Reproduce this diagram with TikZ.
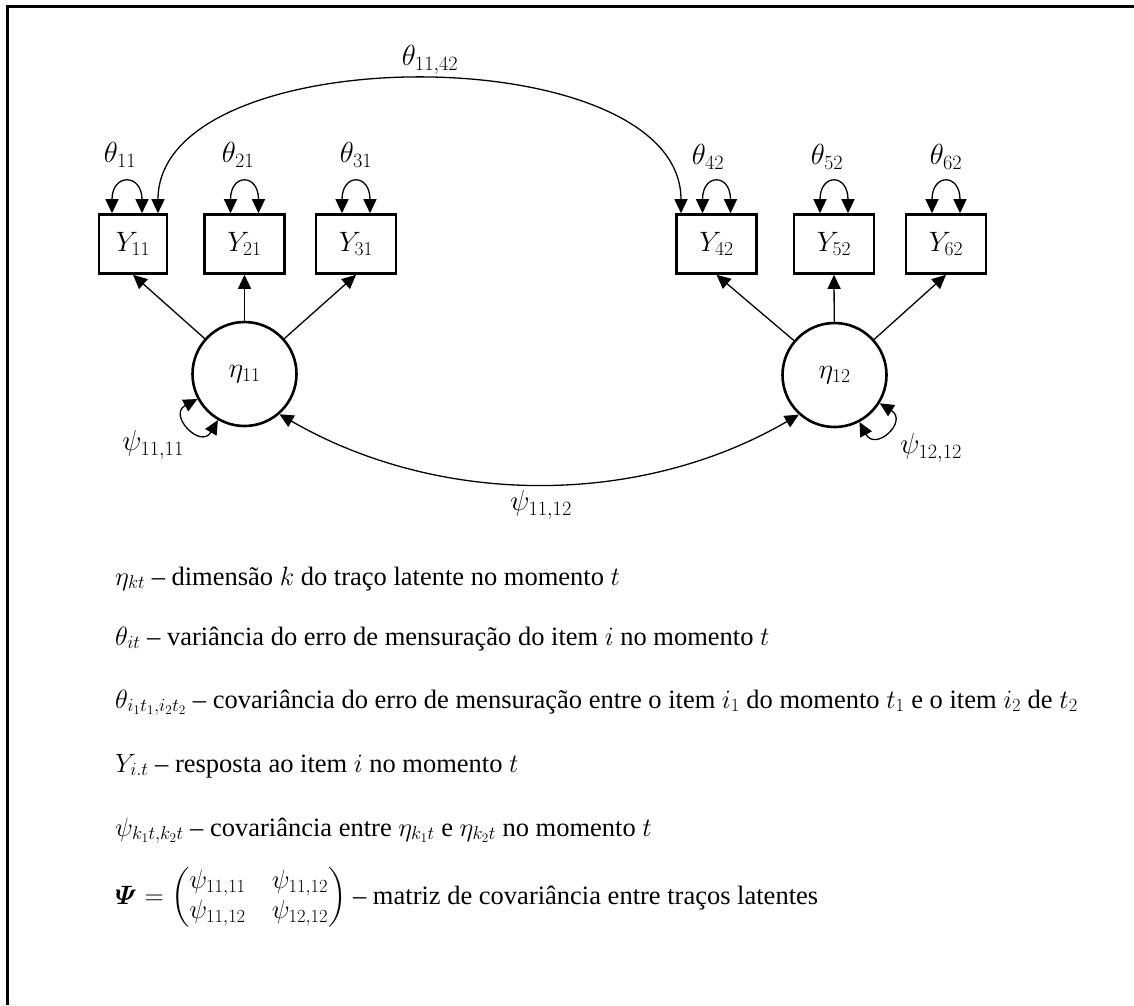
\RequirePackage{fix-cm}
\documentclass[tikz,border=0pt]{standalone}
\usepackage{amsmath}
\usepackage{fontspec}
\setmainfont{Liberation Serif}
\usetikzlibrary{arrows.meta}
\begin{document}
\begin{tikzpicture}[x=1pt,y=1pt,
  hd/.tip={Triangle[length=14pt,width=13pt]},
  item/.style={draw,line width=2.6pt,minimum width=80pt,minimum height=59pt,inner sep=0pt,font=\fontsize{28}{32}\selectfont},
  latent/.style={draw,circle,line width=2.6pt,minimum size=104pt,inner sep=0pt,font=\fontsize{28}{32}\selectfont},
  load/.style={line width=1.3pt,-hd},
  cov/.style={line width=1.3pt,hd-hd},
  lbl/.style={inner sep=0pt,font=\fontsize{29}{33}\selectfont},
  legend/.style={anchor=base west,inner sep=0pt,font=\fontsize{26.5}{30}\selectfont}]

\useasboundingbox (0,0) rectangle (1134,-1005);
% open frame: top and left edges
\draw[line width=3pt] (7,-1005) -- (7,-6) -- (1134,-6);

% observed items
\node[item,minimum width=68pt] (Y11) at (133,-244) {$Y_{11}$};
\node[item] (Y21) at (244.5,-244) {$Y_{21}$};
\node[item] (Y31) at (356,-244) {$Y_{31}$};
\node[item] (Y42) at (716.5,-244) {$Y_{42}$};
\node[item] (Y52) at (834,-244) {$Y_{52}$};
\node[item] (Y62) at (946,-244) {$Y_{62}$};

% latent traits
\node[latent] (eta11) at (244.5,-374) {$\eta_{11}$};
\node[latent] (eta12) at (834.5,-375) {$\eta_{12}$};

% loadings
\draw[load] (eta11) -- (Y11.south);
\draw[load] (eta11) -- (Y21.south);
\draw[load] (eta11) -- (Y31.south);
\draw[load] (eta12) -- (Y42.south);
\draw[load] (eta12) -- (Y52.south);
\draw[load] (eta12) -- (Y62.south);

% error variances
\draw[cov] ([xshift=-21pt]Y11.north) .. controls +(0,40) and +(0,40) .. ([xshift=9pt]Y11.north);
\foreach \n in {Y21,Y31,Y42,Y52,Y62}
  \draw[cov] ([xshift=-14pt]\n.north) .. controls +(0,40) and +(0,40) .. ([xshift=14pt]\n.north);

\node[lbl] (t11) at (120,-155) {$\theta_{11}$};
\node[lbl] (t21) at (238,-155) {$\theta_{21}$};
\node[lbl] (t31) at (356,-155) {$\theta_{31}$};
\node[lbl] (t42) at (708,-157) {$\theta_{42}$};
\node[lbl] (t52) at (827,-157) {$\theta_{52}$};
\node[lbl] (t62) at (946,-157) {$\theta_{62}$};

% error covariance across occasions
\draw[cov] ([xshift=25pt]Y11.north) .. controls (158,-36) and (681,-36) .. ([xshift=-35.5pt]Y42.north);
\node[lbl] (t1142) at (430,-60) {$\theta_{11,42}$};

% latent variances and covariance
\draw[cov] (eta11.208) .. controls +(208:34) and +(240:34) .. (eta11.240);
\draw[cov] (eta12.298) .. controls +(298:34) and +(328:34) .. (eta12.328);
\draw[cov] (eta11.311) .. controls (440,-507) and (640,-507) .. (eta12.228);
\node[lbl] (p1111) at (153,-445) {$\psi_{11,11}$};
\node[lbl] (p1212) at (931,-448) {$\psi_{12,12}$};
\node[lbl] (p1112) at (541,-505) {$\psi_{11,12}$};

% legend
\node[legend] (l1) at (115,-585) {$\eta_{kt}$ – dimensão $k$ do traço latente no momento $t$};
\node[legend] (l2) at (115,-645) {$\theta_{it}$ – variância do erro de mensuração do item $i$ no momento $t$};
\node[legend] (l3) at (115,-708) {$\theta_{i_1t_1,i_2t_2}$ – covariância do erro de mensuração entre o item $i_1$ do momento $t_1$ e o item $i_2$ de $t_2$};
\node[legend] (l4) at (115,-772) {$Y_{i.t}$ – resposta ao item $i$ no momento $t$};
\node[legend] (l5) at (115,-836) {$\psi_{k_1t,k_2t}$ – covariância entre $\eta_{k_1t}$ e $\eta_{k_2t}$ no momento $t$};
\node[legend] (l6) at (115,-904) {\setlength{\arraycolsep}{13pt}$\boldsymbol{\varPsi}=\begin{pmatrix}\psi_{11,11} & \psi_{11,12}\\ \psi_{11,12} & \psi_{12,12}\end{pmatrix}$ – matriz de covariância entre traços latentes};
\end{tikzpicture}
\end{document}
